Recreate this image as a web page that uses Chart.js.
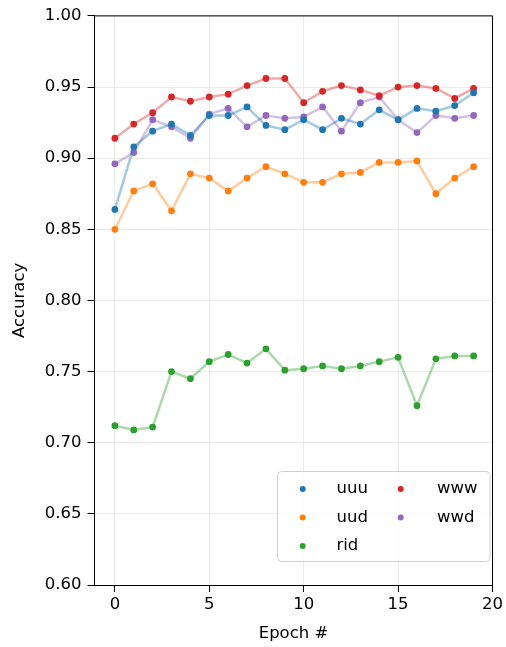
<!DOCTYPE html>
<html>
<head>
<meta charset="utf-8">
<script src="https://cdn.jsdelivr.net/npm/chart.js@4"></script>
<style>
  html, body { margin: 0; padding: 0; background: #fff; }
  #wrap { width: 506px; height: 647px; }
</style>
</head>
<body>
<div id="wrap"><canvas id="chart-acc"></canvas></div>
<script>
const epochs = [0, 1, 2, 3, 4, 5, 6, 7, 8, 9, 10, 11, 12, 13, 14, 15, 16, 17, 18, 19];
const uuu = [0.864, 0.908, 0.919, 0.924, 0.916, 0.930, 0.930, 0.936, 0.923, 0.920, 0.927, 0.920, 0.928, 0.924, 0.934, 0.927, 0.935, 0.933, 0.937, 0.946];
const uud = [0.850, 0.877, 0.882, 0.863, 0.889, 0.886, 0.877, 0.886, 0.894, 0.889, 0.883, 0.883, 0.889, 0.890, 0.897, 0.897, 0.898, 0.875, 0.886, 0.894];
const rid = [0.712, 0.709, 0.711, 0.750, 0.745, 0.757, 0.762, 0.756, 0.766, 0.751, 0.752, 0.754, 0.752, 0.754, 0.757, 0.760, 0.726, 0.759, 0.761, 0.761];
const www = [0.914, 0.924, 0.932, 0.943, 0.940, 0.943, 0.945, 0.951, 0.956, 0.956, 0.939, 0.947, 0.951, 0.948, 0.944, 0.950, 0.951, 0.949, 0.942, 0.949];
const wwd = [0.896, 0.904, 0.927, 0.922, 0.914, 0.931, 0.935, 0.922, 0.930, 0.928, 0.929, 0.936, 0.919, 0.939, 0.943, 0.927, 0.918, 0.930, 0.928, 0.930];
const xTicks = [0, 5, 10, 15, 20];
const yTicks = [0.60, 0.65, 0.70, 0.75, 0.80, 0.85, 0.90, 0.95, 1.00];

const series = [
    { label: 'uuu', values: uuu, color: '31, 119, 180' },
    { label: 'uud', values: uud, color: '255, 127, 14' },
    { label: 'rid', values: rid, color: '44, 160, 44' },
    { label: 'www', values: www, color: '214, 39, 40' },
    { label: 'wwd', values: wwd, color: '148, 103, 189' },
];

const font = { family: 'DejaVu Sans', size: 16.5 };

// matplotlib-style box + legend (2 columns, lower right)
const framePlugin = {
    id: 'frame',
    afterDraw(chart) {
        const { ctx, chartArea: a } = chart;
        ctx.save();
        ctx.strokeStyle = '#000';
        ctx.lineWidth = 1;
        ctx.beginPath();
        ctx.moveTo(a.left, a.top);
        ctx.lineTo(a.right, a.top);
        ctx.lineTo(a.right, a.bottom);
        ctx.stroke();

        // legend
        const bx = 277.5, by = 471.5, bw = 212.5, bh = 90;
        ctx.fillStyle = 'rgba(255,255,255,0.8)';
        ctx.strokeStyle = '#d0d0d0';
        ctx.beginPath();
        ctx.roundRect(bx, by, bw, bh, 4);
        ctx.fill();
        ctx.stroke();
        ctx.font = '16.5px "DejaVu Sans"';
        ctx.textBaseline = 'middle';
        ctx.textAlign = 'left';
        chart.data.datasets.forEach((ds, i) => {
            const col = Math.floor(i / 3), row = i % 3;
            const dotX = 302.7 + col * 98;
            const textX = 336.5 + col * 100.5;
            const y = 489 + row * 28.5;
            ctx.fillStyle = ds.pointBackgroundColor;
            ctx.beginPath();
            ctx.arc(dotX, y, 3, 0, Math.PI * 2);
            ctx.fill();
            ctx.fillStyle = '#000';
            ctx.fillText(ds.label, textX, y);
        });
        ctx.restore();
    }
};

new Chart(document.getElementById('chart-acc'), {
    type: 'scatter',
    data: {
        datasets: series.map(s => ({
            label: s.label,
            data: epochs.map((e, i) => ({ x: e, y: s.values[i] })),
            showLine: true,
            borderColor: `rgba(${s.color}, 0.4)`,
            borderWidth: 2.5,
            pointBackgroundColor: `rgb(${s.color})`,
            pointBorderWidth: 0,
            pointRadius: 3.4,
            pointHoverRadius: 3.4,
        }))
    },
    options: {
        responsive: true,
        maintainAspectRatio: false,
        animation: false,
        layout: { padding: { top: 13.5, right: 12.5, left: 0, bottom: 0 } },
        scales: {
            x: {
                type: 'linear',
                min: -1.08,
                max: 20,
                afterBuildTicks: scale => { scale.ticks = xTicks.map(v => ({ value: v })); },
                afterFit: scale => { scale.height = 62; },
                ticks: { color: '#000', font, padding: 3, maxRotation: 0 },
                grid: { color: '#ebebeb', tickColor: '#000', tickLength: 7 },
                border: { color: '#000' },
                title: { display: true, text: 'Epoch #', color: '#000', font, padding: { top: 0, bottom: 3 } },
            },
            y: {
                min: 0.6,
                max: 1.0,
                afterBuildTicks: scale => { scale.ticks = yTicks.map(v => ({ value: v })); },
                afterFit: scale => { scale.width = 94.5; },
                ticks: { color: '#000', font, padding: 6, callback: v => v.toFixed(2) },
                grid: { color: '#ebebeb', tickColor: '#000', tickLength: 7 },
                border: { color: '#000' },
                title: { display: true, text: 'Accuracy', color: '#000', font, padding: { top: 10, bottom: 0 } },
            }
        },
        plugins: {
            legend: { display: false },
            tooltip: { enabled: false }
        }
    },
    plugins: [framePlugin]
});
</script>
</body>
</html>
